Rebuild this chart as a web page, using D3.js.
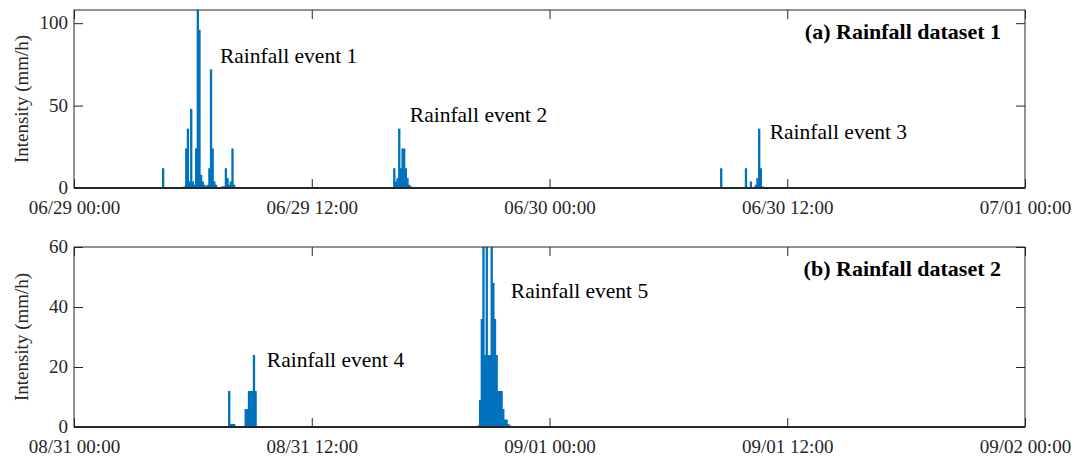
<!DOCTYPE html>
<html><head><meta charset="utf-8">
<script src="https://cdn.jsdelivr.net/npm/d3@7"></script>
<style>body{margin:0;background:#fff}svg{display:block}</style>
</head><body>
<script>
// ---- Data ----
const ticksA = ["06/29 00:00","06/29 12:00","06/30 00:00","06/30 12:00","07/01 00:00"];
const ticksB = ["08/31 00:00","08/31 12:00","09/01 00:00","09/01 12:00","09/02 00:00"];
const yTicksA = [0, 50, 100];
const yTicksB = [0, 20, 40, 60];

const timesA = ["06/29 04:30","06/29 05:25","06/29 05:30","06/29 05:35","06/29 05:40","06/29 05:45","06/29 05:50","06/29 05:55",
 "06/29 06:00","06/29 06:05","06/29 06:10","06/29 06:15","06/29 06:20","06/29 06:25","06/29 06:30","06/29 06:35","06/29 06:40",
 "06/29 06:45","06/29 06:50","06/29 06:55","06/29 07:00","06/29 07:05","06/29 07:10","06/29 07:15","06/29 07:30","06/29 07:35",
 "06/29 07:40","06/29 07:45","06/29 07:50","06/29 07:55","06/29 08:00","06/29 08:05",
 "06/29 16:05","06/29 16:10","06/29 16:15","06/29 16:20","06/29 16:25","06/29 16:30","06/29 16:35","06/29 16:40","06/29 16:45",
 "06/29 16:50","06/29 16:55","06/29 17:00",
 "06/30 08:40","06/30 08:45","06/30 08:50","06/30 08:55","06/30 09:55","06/30 10:00","06/30 10:05","06/30 10:10","06/30 10:15",
 "06/30 10:20","06/30 10:25","06/30 10:30","06/30 10:35","06/30 10:40","06/30 10:45"];
const valuesA = [12,0.5,0.5,1,24,36,4,48,
 4,2,24,108,96,8,4,2,1,
 2,12,72,24,4,2,0.5,1,1,
 12,6,2,4,24,2,
 0.5,12,4,6,36,12,24,24,12,
 6,2,1,
 12,0.5,0.5,0.3,12,0.5,0.5,4,0.5,
 0.5,2,6,36,12,1];

const timesB = ["08/31 07:50","08/31 07:55","08/31 08:00","08/31 08:05","08/31 08:40","08/31 08:45","08/31 08:50","08/31 08:55",
 "08/31 09:00","08/31 09:05","08/31 09:10",
 "08/31 20:25","08/31 20:30","08/31 20:35","08/31 20:40","08/31 20:45","08/31 20:50","08/31 20:55","08/31 21:00","08/31 21:05",
 "08/31 21:10","08/31 21:15","08/31 21:20","08/31 21:25","08/31 21:30","08/31 21:35","08/31 21:40","08/31 21:45","08/31 21:50",
 "08/31 21:55","08/31 22:00"];
const valuesB = [12,1,1,1,6,6,12,12,
 12,24,12,
 0.5,9,36,72,24,72,24,24,72,
 48,36,24,12,12,12,6,2.5,2.5,
 1,0.5];

const eventsA = [{label:"Rainfall event 1", t:"06/29 07:22", y:76},
                 {label:"Rainfall event 2", t:"06/29 16:57", y:40},
                 {label:"Rainfall event 3", t:"06/30 11:07", y:30}];
const eventsB = [{label:"Rainfall event 4", t:"08/31 09:44", y:20},
                 {label:"Rainfall event 5", t:"08/31 22:03", y:43}];

// ---- Drawing ----
const W = 1084, H = 456;
const parse = d3.timeParse("%m/%d %H:%M");
const blue = "#0072BD";
const font = "'Liberation Serif','Times New Roman',serif";
const svg = d3.select("body").append("svg").attr("width", W).attr("height", H);

function panel(idx, top, bottom, ticks, yTicks, yMax, times, values, events, title) {
  const left = 74, right = 1025;
  const x = d3.scaleTime().domain([parse(ticks[0]), parse(ticks[ticks.length-1])]).range([left, right]);
  const y = d3.scaleLinear().domain([0, yMax]).range([bottom, top]);
  const g = svg.append("g");
  const clipId = "clip" + idx;
  svg.append("clipPath").attr("id", clipId).append("rect")
    .attr("x", left).attr("y", top).attr("width", right-left).attr("height", bottom-top);

  const step = x(d3.timeMinute.offset(parse(ticks[0]), 5)) - x(parse(ticks[0]));
  const bw = step * 1.4;
  const data = times.map((t,i)=>({t:parse(t), v:values[i]}));
  g.append("g").attr("clip-path", `url(#${clipId})`)
    .selectAll("rect").data(data).join("rect")
    .attr("x", d => x(d.t) - bw/2)
    .attr("width", bw)
    .attr("y", d => y(d.v))
    .attr("height", d => y(0) - y(d.v))
    .attr("fill", blue);

  // axes (ticks inward)
  const xb = d3.axisBottom(x).tickValues(ticks.map(parse)).tickSize(-9).tickSizeOuter(0)
    .tickFormat((d,i)=>ticks[i]);
  const xa = g.append("g").attr("transform", `translate(0,${bottom})`).call(xb);
  xa.selectAll("text").attr("dy", null).attr("y", 26);
  const xt = d3.axisTop(x).tickValues(ticks.map(parse)).tickSize(-9).tickSizeOuter(0).tickFormat("");
  g.append("g").attr("transform", `translate(0,${top})`).call(xt);
  const yl = d3.axisLeft(y).tickValues(yTicks).tickSize(-9).tickSizeOuter(0).tickPadding(6);
  const ya = g.append("g").attr("transform", `translate(${left},0)`).call(yl);
  const yr = d3.axisRight(y).tickValues(yTicks).tickSize(-9).tickSizeOuter(0).tickFormat("");
  g.append("g").attr("transform", `translate(${right},0)`).call(yr);
  g.selectAll(".domain").remove();
  g.selectAll(".tick line").attr("stroke", "#262626").attr("stroke-width", 1);
  g.selectAll(".tick text").attr("font-family", font).attr("font-size", 19).attr("fill", "#262626");
  ya.selectAll(".tick text").attr("dy", "0.3em");

  g.append("rect").attr("x", left).attr("y", top).attr("width", right-left).attr("height", bottom-top)
    .attr("fill", "none").attr("stroke", "#262626").attr("stroke-width", 1);
  g.append("line").attr("x1", left).attr("x2", right).attr("y1", bottom).attr("y2", bottom)
    .attr("stroke", "#262626").attr("stroke-width", 1.8);

  g.append("text").attr("transform", `translate(28,${(top+bottom)/2}) rotate(-90)`)
    .attr("text-anchor", "middle").attr("font-family", font).attr("font-size", 19).attr("fill", "#262626")
    .text("Intensity (mm/h)");
  g.append("text").attr("x", 1001).attr("y", top + 29).attr("text-anchor", "end")
    .attr("font-family", font).attr("font-size", 22).attr("font-weight", "bold").attr("fill", "#000")
    .text(title);
  g.selectAll(".ev").data(events).join("text").attr("class","ev")
    .attr("x", d => x(parse(d.t))).attr("y", d => y(d.y))
    .attr("font-family", font).attr("font-size", 21.5).attr("fill", "#000")
    .text(d => d.label);
}

panel(0, 10, 188, ticksA, yTicksA, 108, timesA, valuesA, eventsA, "(a) Rainfall dataset 1");
panel(1, 247, 427, ticksB, yTicksB, 60, timesB, valuesB, eventsB, "(b) Rainfall dataset 2");
</script>
</body></html>
